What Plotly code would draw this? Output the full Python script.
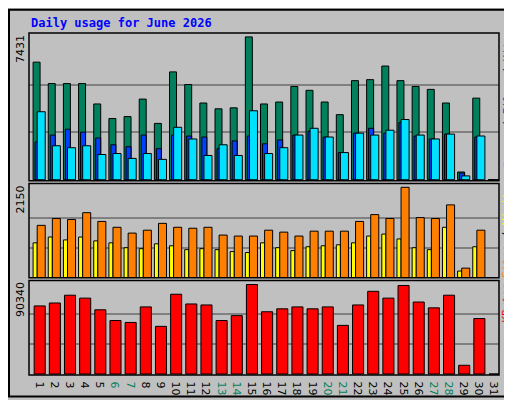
import plotly.graph_objects as go

days = list(range(1, 32))
hits = [6117, 5005, 5005, 5005, 3943, 3185, 3286, 4196, 2932, 5611, 4954, 3993, 3690, 3741, 7431,
        3943, 4044, 4853, 4651, 4044, 3387, 5156, 5207, 5914, 5156, 4853, 4701, 3993, 404, 4246, 0]
files = [1971, 2325, 2629, 2477, 2174, 1820, 1719, 2325, 1618, 2325, 2275, 2224, 1618, 2022, 2275,
         1870, 2073, 2325, 2528, 2224, 1415, 2426, 2679, 2426, 2982, 2275, 2123, 2376, 354, 2224, 0]
pages = [3539, 1769, 1668, 1769, 1314, 1365, 1112, 1365, 1062, 2730, 2123, 1264, 1820, 1264, 3589,
         1365, 1668, 2325, 2679, 2224, 1415, 2426, 2325, 2578, 3134, 2325, 2123, 2376, 202, 2275, 0]
visits = [1247, 1409, 1386, 1548, 1340, 1201, 1063, 1132, 1294, 1201, 1178, 1201, 1016, 993, 993,
          1132, 1086, 993, 1109, 1109, 1109, 1340, 1502, 1409, 2150, 1432, 1409, 1733, 231, 1132, 0]
sites = [832, 970, 901, 970, 878, 832, 716, 693, 809, 762, 670, 693, 670, 624, 601,
         832, 716, 647, 739, 762, 785, 832, 993, 1040, 924, 716, 670, 1201, 162, 739, 0]
kbytes = [68740, 71686, 79542, 76596, 64812, 54010, 52046, 67758, 48118, 80524, 70704, 69722, 54010, 58920, 90340,
          62848, 65794, 67758, 65794, 67758, 49100, 69722, 83470, 76596, 89362, 72668, 66776, 79542, 8838, 55974, 0]
weekends = [6, 7, 13, 14, 20, 21, 27, 28]

fig = go.Figure()

def bar(y, color, axis, offset, width):
    fig.add_trace(go.Bar(x=days, y=y, yaxis=axis, offset=offset, width=width,
                         marker=dict(color=color, line=dict(color='black', width=1)),
                         showlegend=False, hoverinfo='skip'))

bar(hits, '#00805C', 'y', -0.53, 0.46)
bar(files, '#0040FF', 'y', -0.4, 0.33)
bar(pages, '#00E0FF', 'y', -0.26, 0.53)
bar(sites, '#FFFF00', 'y2', -0.53, 0.27)
bar(visits, '#FF8000', 'y2', -0.26, 0.53)
bar(kbytes, '#FF0000', 'y3', -0.46, 0.73)

grid = dict(showgrid=True, gridcolor='#808080', gridwidth=1.5, showticklabels=False,
            zeroline=False, ticks='', showline=False)
fig.update_layout(
    width=512, height=400, margin=dict(l=21, r=21, t=25, b=23),
    paper_bgcolor='#C0C0C0', plot_bgcolor='#C0C0C0', barmode='overlay',
    xaxis=dict(range=[0.2, 31.2], tickvals=days, anchor='y3',
               ticktext=[f'<span style="color:#00805C">{d}</span>' if d in weekends else str(d) for d in days],
               tickfont=dict(family='DejaVu Sans', size=11, color='black'), ticks='', showgrid=False,
               zeroline=False),
    yaxis=dict(domain=[0.568, 1], range=[-50, 7633], tickvals=[7431 / 3, 2 * 7431 / 3], **grid),
    yaxis2=dict(domain=[0.284, 0.56], range=[0, 2241], tickvals=[2150 / 3, 2 * 2150 / 3], **grid),
    yaxis3=dict(domain=[0, 0.276], range=[-982, 94272], tickvals=[90340 / 3, 2 * 90340 / 3], **grid),
)

# panel frames
for y0, y1 in [(0.568, 1), (0.284, 0.56), (0, 0.276)]:
    fig.add_shape(type='rect', xref='paper', yref='paper', x0=0, x1=1, y0=y0, y1=y1,
                  line=dict(color='black', width=1.5))
fig.add_shape(type='rect', xref='paper', yref='paper', x0=-20 / 470, x1=1 + 20 / 470,
              y0=-22 / 352, y1=1 + 24 / 352, line=dict(color='black', width=2))

mono = 'DejaVu Sans Mono'
fig.add_annotation(text='<b>Daily usage for June 2026</b>', xref='paper', yref='paper',
                   x=0, y=1 + 10 / 352, xanchor='left', yanchor='middle', showarrow=False,
                   font=dict(family=mono, size=12, color='#0000FF'))
for label, ytop in [('7431', 1), ('2150', 0.56), ('90340', 0.276)]:
    fig.add_annotation(text=label, xref='paper', yref='paper', x=-9 / 470, y=ytop, textangle=-90,
                       xanchor='center', yanchor='top', showarrow=False,
                       font=dict(family='DejaVu Sans', size=11, color='black'))

right = [('<span style="color:#00E0FF">Pages</span> / <span style="color:#0040FF">Files</span> / '
          '<span style="color:#00805C">Hits</span>', 1),
         ('<span style="color:#FF8000">Sites</span> / <span style="color:#FFFF00">Visits</span>', 0.56),
         ('<span style="color:#FF0000">KBytes</span>', 0.276)]
for label, ytop in right:
    fig.add_annotation(text=label, xref='paper', yref='paper', x=1 + 8 / 470, y=ytop, textangle=-90,
                       xanchor='center', yanchor='top', showarrow=False,
                       font=dict(family=mono, size=11, color='black'))

fig.write_html("out.html")
